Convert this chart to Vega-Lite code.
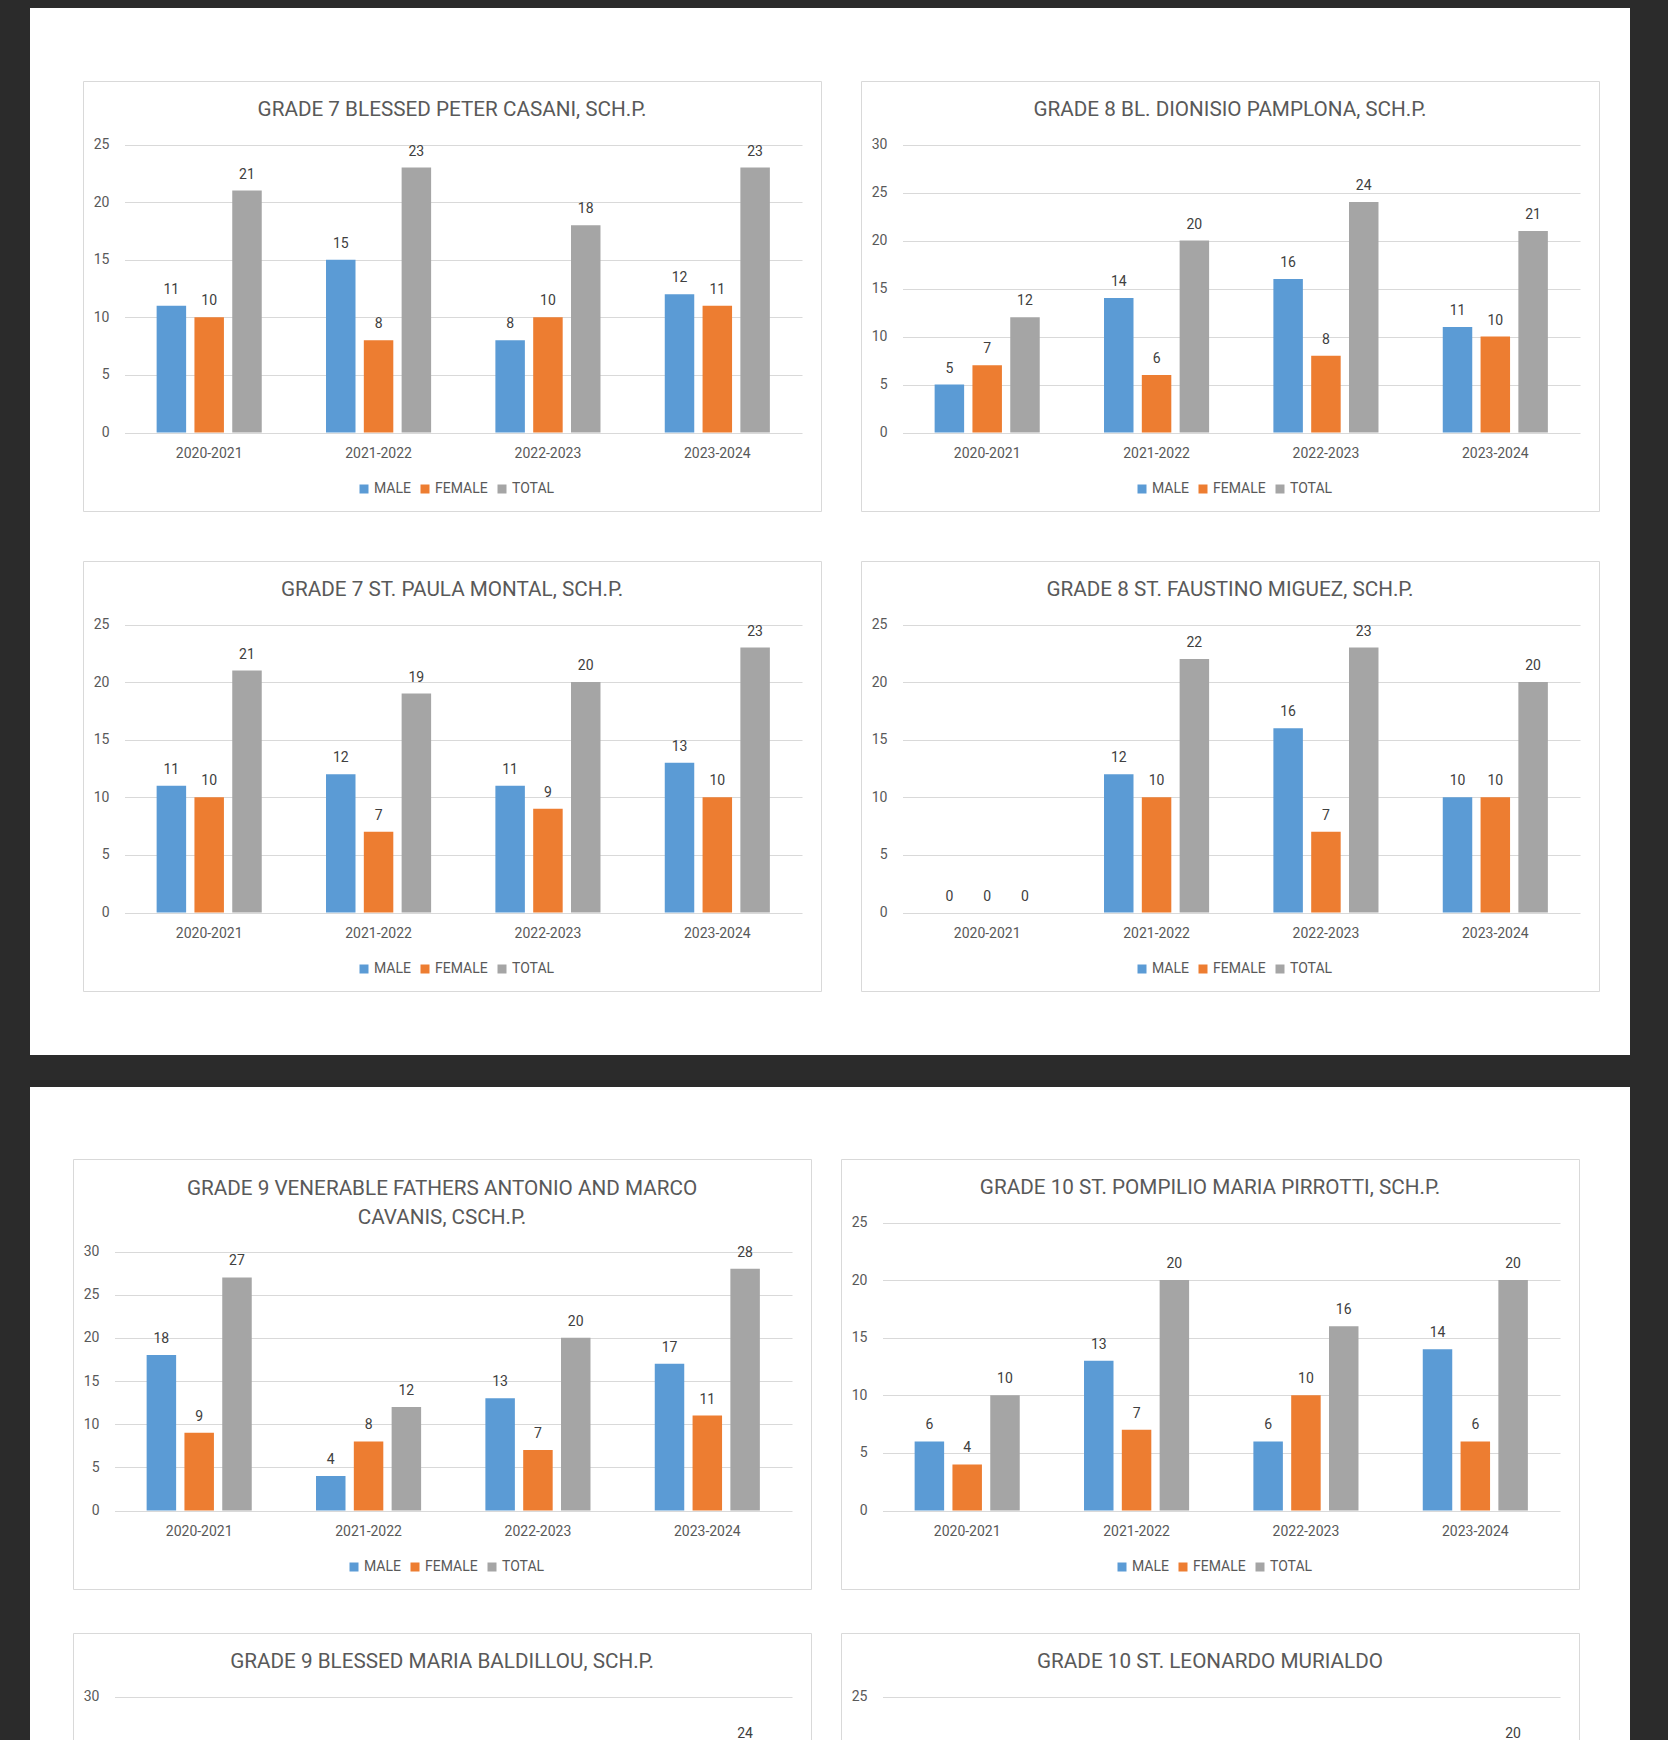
{
  "$schema": "https://vega.github.io/schema/vega-lite/v6.json",
  "background": "#ffffff",
  "padding": 0,
  "spacing": 0,
  "resolve": {"scale": {"color": "independent"}, "legend": {"color": "independent"}},
  "datasets": {
    "enrolment": [
      {"chart": "c1", "year": "2020-2021", "series": "MALE", "value": 11},
      {"chart": "c1", "year": "2020-2021", "series": "FEMALE", "value": 10},
      {"chart": "c1", "year": "2020-2021", "series": "TOTAL", "value": 21},
      {"chart": "c1", "year": "2021-2022", "series": "MALE", "value": 15},
      {"chart": "c1", "year": "2021-2022", "series": "FEMALE", "value": 8},
      {"chart": "c1", "year": "2021-2022", "series": "TOTAL", "value": 23},
      {"chart": "c1", "year": "2022-2023", "series": "MALE", "value": 8},
      {"chart": "c1", "year": "2022-2023", "series": "FEMALE", "value": 10},
      {"chart": "c1", "year": "2022-2023", "series": "TOTAL", "value": 18},
      {"chart": "c1", "year": "2023-2024", "series": "MALE", "value": 12},
      {"chart": "c1", "year": "2023-2024", "series": "FEMALE", "value": 11},
      {"chart": "c1", "year": "2023-2024", "series": "TOTAL", "value": 23},

      {"chart": "c2", "year": "2020-2021", "series": "MALE", "value": 5},
      {"chart": "c2", "year": "2020-2021", "series": "FEMALE", "value": 7},
      {"chart": "c2", "year": "2020-2021", "series": "TOTAL", "value": 12},
      {"chart": "c2", "year": "2021-2022", "series": "MALE", "value": 14},
      {"chart": "c2", "year": "2021-2022", "series": "FEMALE", "value": 6},
      {"chart": "c2", "year": "2021-2022", "series": "TOTAL", "value": 20},
      {"chart": "c2", "year": "2022-2023", "series": "MALE", "value": 16},
      {"chart": "c2", "year": "2022-2023", "series": "FEMALE", "value": 8},
      {"chart": "c2", "year": "2022-2023", "series": "TOTAL", "value": 24},
      {"chart": "c2", "year": "2023-2024", "series": "MALE", "value": 11},
      {"chart": "c2", "year": "2023-2024", "series": "FEMALE", "value": 10},
      {"chart": "c2", "year": "2023-2024", "series": "TOTAL", "value": 21},

      {"chart": "c3", "year": "2020-2021", "series": "MALE", "value": 11},
      {"chart": "c3", "year": "2020-2021", "series": "FEMALE", "value": 10},
      {"chart": "c3", "year": "2020-2021", "series": "TOTAL", "value": 21},
      {"chart": "c3", "year": "2021-2022", "series": "MALE", "value": 12},
      {"chart": "c3", "year": "2021-2022", "series": "FEMALE", "value": 7},
      {"chart": "c3", "year": "2021-2022", "series": "TOTAL", "value": 19},
      {"chart": "c3", "year": "2022-2023", "series": "MALE", "value": 11},
      {"chart": "c3", "year": "2022-2023", "series": "FEMALE", "value": 9},
      {"chart": "c3", "year": "2022-2023", "series": "TOTAL", "value": 20},
      {"chart": "c3", "year": "2023-2024", "series": "MALE", "value": 13},
      {"chart": "c3", "year": "2023-2024", "series": "FEMALE", "value": 10},
      {"chart": "c3", "year": "2023-2024", "series": "TOTAL", "value": 23},

      {"chart": "c4", "year": "2020-2021", "series": "MALE", "value": 0},
      {"chart": "c4", "year": "2020-2021", "series": "FEMALE", "value": 0},
      {"chart": "c4", "year": "2020-2021", "series": "TOTAL", "value": 0},
      {"chart": "c4", "year": "2021-2022", "series": "MALE", "value": 12},
      {"chart": "c4", "year": "2021-2022", "series": "FEMALE", "value": 10},
      {"chart": "c4", "year": "2021-2022", "series": "TOTAL", "value": 22},
      {"chart": "c4", "year": "2022-2023", "series": "MALE", "value": 16},
      {"chart": "c4", "year": "2022-2023", "series": "FEMALE", "value": 7},
      {"chart": "c4", "year": "2022-2023", "series": "TOTAL", "value": 23},
      {"chart": "c4", "year": "2023-2024", "series": "MALE", "value": 10},
      {"chart": "c4", "year": "2023-2024", "series": "FEMALE", "value": 10},
      {"chart": "c4", "year": "2023-2024", "series": "TOTAL", "value": 20},

      {"chart": "c5", "year": "2020-2021", "series": "MALE", "value": 18},
      {"chart": "c5", "year": "2020-2021", "series": "FEMALE", "value": 9},
      {"chart": "c5", "year": "2020-2021", "series": "TOTAL", "value": 27},
      {"chart": "c5", "year": "2021-2022", "series": "MALE", "value": 4},
      {"chart": "c5", "year": "2021-2022", "series": "FEMALE", "value": 8},
      {"chart": "c5", "year": "2021-2022", "series": "TOTAL", "value": 12},
      {"chart": "c5", "year": "2022-2023", "series": "MALE", "value": 13},
      {"chart": "c5", "year": "2022-2023", "series": "FEMALE", "value": 7},
      {"chart": "c5", "year": "2022-2023", "series": "TOTAL", "value": 20},
      {"chart": "c5", "year": "2023-2024", "series": "MALE", "value": 17},
      {"chart": "c5", "year": "2023-2024", "series": "FEMALE", "value": 11},
      {"chart": "c5", "year": "2023-2024", "series": "TOTAL", "value": 28},

      {"chart": "c6", "year": "2020-2021", "series": "MALE", "value": 6},
      {"chart": "c6", "year": "2020-2021", "series": "FEMALE", "value": 4},
      {"chart": "c6", "year": "2020-2021", "series": "TOTAL", "value": 10},
      {"chart": "c6", "year": "2021-2022", "series": "MALE", "value": 13},
      {"chart": "c6", "year": "2021-2022", "series": "FEMALE", "value": 7},
      {"chart": "c6", "year": "2021-2022", "series": "TOTAL", "value": 20},
      {"chart": "c6", "year": "2022-2023", "series": "MALE", "value": 6},
      {"chart": "c6", "year": "2022-2023", "series": "FEMALE", "value": 10},
      {"chart": "c6", "year": "2022-2023", "series": "TOTAL", "value": 16},
      {"chart": "c6", "year": "2023-2024", "series": "MALE", "value": 14},
      {"chart": "c6", "year": "2023-2024", "series": "FEMALE", "value": 6},
      {"chart": "c6", "year": "2023-2024", "series": "TOTAL", "value": 20},

      {"chart": "c7", "year": "2023-2024", "series": "TOTAL", "value": 24},
      {"chart": "c8", "year": "2023-2024", "series": "TOTAL", "value": 20}
    ]
  },
  "hconcat": [
    {"width": 30, "height": 1740, "data": {"values": []}, "mark": "point", "view": {"fill": "#2b2b2b", "stroke": null}},
    {
      "spacing": 0,
      "resolve": {"scale": {"color": "independent"}, "legend": {"color": "independent"}},
      "vconcat": [
        {"width": 1600, "height": 8, "data": {"values": []}, "mark": "point", "view": {"fill": "#2b2b2b", "stroke": null}},
        {"width": 1, "height": 71.5, "data": {"values": []}, "mark": "point"},
        {
          "spacing": 38,
          "resolve": {"scale": {"color": "independent"}, "legend": {"color": "independent"}},
          "hconcat": [
            {"width": 14, "height": 430, "data": {"values": []}, "mark": "point"},
            {
              "width": 738, "height": 430,
              "view": {"fill": "#ffffff", "stroke": "#d9d9d9", "strokeWidth": 1},
              "title": "GRADE 7 BLESSED PETER CASANI, SCH.P.",
              "data": {"name": "enrolment"},
              "transform": [{"filter": "datum.chart === 'c1'"}],
              "encoding": {
                "x": {"field": "year", "type": "nominal", "title": null, "scale": {"domain": ["2020-2021", "2021-2022", "2022-2023", "2023-2024"], "range": [41.5, 719], "paddingInner": 0, "paddingOuter": 0}},
                "xOffset": {"field": "series", "type": "nominal", "scale": {"domain": ["MALE", "FEMALE", "TOTAL"], "paddingInner": 0.22, "paddingOuter": 0.85}},
                "y": {"field": "value", "type": "quantitative", "title": null, "scale": {"domain": [0, 25], "range": [351.5, 63.5], "nice": false}, "axis": {"values": [0, 5, 10, 15, 20, 25]}},
                "color": {"field": "series", "type": "nominal", "scale": {"domain": ["MALE", "FEMALE", "TOTAL"], "range": ["#5b9bd5", "#ed7d31", "#a5a5a5"]}, "legend": {"title": null, "orient": "none", "legendX": 274, "legendY": 401, "direction": "horizontal", "symbolType": "square", "symbolSize": 81, "symbolStrokeWidth": 0, "labelFont": "Roboto", "labelFontSize": 14, "labelColor": "#595959", "labelOffset": 3, "columnPadding": 7, "padding": 0}}
              },
              "layer": [
                {"mark": {"type": "bar"}},
                {"mark": {"type": "text", "baseline": "middle", "dy": -16, "font": "Roboto", "fontSize": 14}, "encoding": {"text": {"field": "value", "type": "quantitative"}, "color": {"value": "#404040"}}}
              ]
            },
            {
              "width": 738, "height": 430,
              "view": {"fill": "#ffffff", "stroke": "#d9d9d9", "strokeWidth": 1},
              "title": "GRADE 8 BL. DIONISIO PAMPLONA, SCH.P.",
              "data": {"name": "enrolment"},
              "transform": [{"filter": "datum.chart === 'c2'"}],
              "encoding": {
                "x": {"field": "year", "type": "nominal", "title": null, "scale": {"domain": ["2020-2021", "2021-2022", "2022-2023", "2023-2024"], "range": [41.5, 719], "paddingInner": 0, "paddingOuter": 0}},
                "xOffset": {"field": "series", "type": "nominal", "scale": {"domain": ["MALE", "FEMALE", "TOTAL"], "paddingInner": 0.22, "paddingOuter": 0.85}},
                "y": {"field": "value", "type": "quantitative", "title": null, "scale": {"domain": [0, 30], "range": [351.5, 63.5], "nice": false}, "axis": {"values": [0, 5, 10, 15, 20, 25, 30]}},
                "color": {"field": "series", "type": "nominal", "scale": {"domain": ["MALE", "FEMALE", "TOTAL"], "range": ["#5b9bd5", "#ed7d31", "#a5a5a5"]}, "legend": {"title": null, "orient": "none", "legendX": 274, "legendY": 401, "direction": "horizontal", "symbolType": "square", "symbolSize": 81, "symbolStrokeWidth": 0, "labelFont": "Roboto", "labelFontSize": 14, "labelColor": "#595959", "labelOffset": 3, "columnPadding": 7, "padding": 0}}
              },
              "layer": [
                {"mark": {"type": "bar"}},
                {"mark": {"type": "text", "baseline": "middle", "dy": -16, "font": "Roboto", "fontSize": 14}, "encoding": {"text": {"field": "value", "type": "quantitative"}, "color": {"value": "#404040"}}}
              ]
            }
          ]
        },
        {"width": 1, "height": 47.5, "data": {"values": []}, "mark": "point"},
        {
          "spacing": 38,
          "resolve": {"scale": {"color": "independent"}, "legend": {"color": "independent"}},
          "hconcat": [
            {"width": 14, "height": 430, "data": {"values": []}, "mark": "point"},
            {
              "width": 738, "height": 430,
              "view": {"fill": "#ffffff", "stroke": "#d9d9d9", "strokeWidth": 1},
              "title": "GRADE 7 ST. PAULA MONTAL, SCH.P.",
              "data": {"name": "enrolment"},
              "transform": [{"filter": "datum.chart === 'c3'"}],
              "encoding": {
                "x": {"field": "year", "type": "nominal", "title": null, "scale": {"domain": ["2020-2021", "2021-2022", "2022-2023", "2023-2024"], "range": [41.5, 719], "paddingInner": 0, "paddingOuter": 0}},
                "xOffset": {"field": "series", "type": "nominal", "scale": {"domain": ["MALE", "FEMALE", "TOTAL"], "paddingInner": 0.22, "paddingOuter": 0.85}},
                "y": {"field": "value", "type": "quantitative", "title": null, "scale": {"domain": [0, 25], "range": [351.5, 63.5], "nice": false}, "axis": {"values": [0, 5, 10, 15, 20, 25]}},
                "color": {"field": "series", "type": "nominal", "scale": {"domain": ["MALE", "FEMALE", "TOTAL"], "range": ["#5b9bd5", "#ed7d31", "#a5a5a5"]}, "legend": {"title": null, "orient": "none", "legendX": 274, "legendY": 401, "direction": "horizontal", "symbolType": "square", "symbolSize": 81, "symbolStrokeWidth": 0, "labelFont": "Roboto", "labelFontSize": 14, "labelColor": "#595959", "labelOffset": 3, "columnPadding": 7, "padding": 0}}
              },
              "layer": [
                {"mark": {"type": "bar"}},
                {"mark": {"type": "text", "baseline": "middle", "dy": -16, "font": "Roboto", "fontSize": 14}, "encoding": {"text": {"field": "value", "type": "quantitative"}, "color": {"value": "#404040"}}}
              ]
            },
            {
              "width": 738, "height": 430,
              "view": {"fill": "#ffffff", "stroke": "#d9d9d9", "strokeWidth": 1},
              "title": "GRADE 8 ST. FAUSTINO MIGUEZ, SCH.P.",
              "data": {"name": "enrolment"},
              "transform": [{"filter": "datum.chart === 'c4'"}],
              "encoding": {
                "x": {"field": "year", "type": "nominal", "title": null, "scale": {"domain": ["2020-2021", "2021-2022", "2022-2023", "2023-2024"], "range": [41.5, 719], "paddingInner": 0, "paddingOuter": 0}},
                "xOffset": {"field": "series", "type": "nominal", "scale": {"domain": ["MALE", "FEMALE", "TOTAL"], "paddingInner": 0.22, "paddingOuter": 0.85}},
                "y": {"field": "value", "type": "quantitative", "title": null, "scale": {"domain": [0, 25], "range": [351.5, 63.5], "nice": false}, "axis": {"values": [0, 5, 10, 15, 20, 25]}},
                "color": {"field": "series", "type": "nominal", "scale": {"domain": ["MALE", "FEMALE", "TOTAL"], "range": ["#5b9bd5", "#ed7d31", "#a5a5a5"]}, "legend": {"title": null, "orient": "none", "legendX": 274, "legendY": 401, "direction": "horizontal", "symbolType": "square", "symbolSize": 81, "symbolStrokeWidth": 0, "labelFont": "Roboto", "labelFontSize": 14, "labelColor": "#595959", "labelOffset": 3, "columnPadding": 7, "padding": 0}}
              },
              "layer": [
                {"mark": {"type": "bar"}},
                {"mark": {"type": "text", "baseline": "middle", "dy": -16, "font": "Roboto", "fontSize": 14}, "encoding": {"text": {"field": "value", "type": "quantitative"}, "color": {"value": "#404040"}}}
              ]
            }
          ]
        },
        {"width": 1, "height": 63, "data": {"values": []}, "mark": "point"},
        {"width": 1600, "height": 32, "data": {"values": []}, "mark": "point", "view": {"fill": "#2b2b2b", "stroke": null}},
        {"width": 1, "height": 70.5, "data": {"values": []}, "mark": "point"},
        {
          "spacing": 28,
          "resolve": {"scale": {"color": "independent"}, "legend": {"color": "independent"}},
          "hconcat": [
            {"width": 14, "height": 430, "data": {"values": []}, "mark": "point"},
            {
              "width": 738, "height": 430,
              "view": {"fill": "#ffffff", "stroke": "#d9d9d9", "strokeWidth": 1},
              "title": {"text": ["GRADE 9 VENERABLE FATHERS ANTONIO AND MARCO", "CAVANIS, CSCH.P."], "lineHeight": 29, "offset": -69.5},
              "data": {"name": "enrolment"},
              "transform": [{"filter": "datum.chart === 'c5'"}],
              "encoding": {
                "x": {"field": "year", "type": "nominal", "title": null, "scale": {"domain": ["2020-2021", "2021-2022", "2022-2023", "2023-2024"], "range": [41.5, 719], "paddingInner": 0, "paddingOuter": 0}},
                "xOffset": {"field": "series", "type": "nominal", "scale": {"domain": ["MALE", "FEMALE", "TOTAL"], "paddingInner": 0.22, "paddingOuter": 0.85}},
                "y": {"field": "value", "type": "quantitative", "title": null, "scale": {"domain": [0, 30], "range": [351.5, 92.5], "nice": false}, "axis": {"values": [0, 5, 10, 15, 20, 25, 30]}},
                "color": {"field": "series", "type": "nominal", "scale": {"domain": ["MALE", "FEMALE", "TOTAL"], "range": ["#5b9bd5", "#ed7d31", "#a5a5a5"]}, "legend": {"title": null, "orient": "none", "legendX": 274, "legendY": 401, "direction": "horizontal", "symbolType": "square", "symbolSize": 81, "symbolStrokeWidth": 0, "labelFont": "Roboto", "labelFontSize": 14, "labelColor": "#595959", "labelOffset": 3, "columnPadding": 7, "padding": 0}}
              },
              "layer": [
                {"mark": {"type": "bar"}},
                {"mark": {"type": "text", "baseline": "middle", "dy": -16, "font": "Roboto", "fontSize": 14}, "encoding": {"text": {"field": "value", "type": "quantitative"}, "color": {"value": "#404040"}}}
              ]
            },
            {
              "width": 738, "height": 430,
              "view": {"fill": "#ffffff", "stroke": "#d9d9d9", "strokeWidth": 1},
              "title": "GRADE 10 ST. POMPILIO MARIA PIRROTTI, SCH.P.",
              "data": {"name": "enrolment"},
              "transform": [{"filter": "datum.chart === 'c6'"}],
              "encoding": {
                "x": {"field": "year", "type": "nominal", "title": null, "scale": {"domain": ["2020-2021", "2021-2022", "2022-2023", "2023-2024"], "range": [41.5, 719], "paddingInner": 0, "paddingOuter": 0}},
                "xOffset": {"field": "series", "type": "nominal", "scale": {"domain": ["MALE", "FEMALE", "TOTAL"], "paddingInner": 0.22, "paddingOuter": 0.85}},
                "y": {"field": "value", "type": "quantitative", "title": null, "scale": {"domain": [0, 25], "range": [351.5, 63.5], "nice": false}, "axis": {"values": [0, 5, 10, 15, 20, 25]}},
                "color": {"field": "series", "type": "nominal", "scale": {"domain": ["MALE", "FEMALE", "TOTAL"], "range": ["#5b9bd5", "#ed7d31", "#a5a5a5"]}, "legend": {"title": null, "orient": "none", "legendX": 274, "legendY": 401, "direction": "horizontal", "symbolType": "square", "symbolSize": 81, "symbolStrokeWidth": 0, "labelFont": "Roboto", "labelFontSize": 14, "labelColor": "#595959", "labelOffset": 3, "columnPadding": 7, "padding": 0}}
              },
              "layer": [
                {"mark": {"type": "bar"}},
                {"mark": {"type": "text", "baseline": "middle", "dy": -16, "font": "Roboto", "fontSize": 14}, "encoding": {"text": {"field": "value", "type": "quantitative"}, "color": {"value": "#404040"}}}
              ]
            }
          ]
        },
        {"width": 1, "height": 42, "data": {"values": []}, "mark": "point"},
        {
          "spacing": 28,
          "resolve": {"scale": {"color": "independent"}, "legend": {"color": "independent"}},
          "hconcat": [
            {"width": 14, "height": 107.5, "data": {"values": []}, "mark": "point"},
            {
              "width": 738, "height": 107.5,
              "view": {"fill": "#ffffff", "stroke": "#d9d9d9", "strokeWidth": 1},
              "title": "GRADE 9 BLESSED MARIA BALDILLOU, SCH.P.",
              "data": {"name": "enrolment"},
              "transform": [{"filter": "datum.chart === 'c7'"}],
              "encoding": {
                "x": {"field": "year", "type": "nominal", "title": null, "axis": null, "scale": {"domain": ["2020-2021", "2021-2022", "2022-2023", "2023-2024"], "range": [41.5, 719], "paddingInner": 0, "paddingOuter": 0}},
                "xOffset": {"field": "series", "type": "nominal", "scale": {"domain": ["MALE", "FEMALE", "TOTAL"], "paddingInner": 0.22, "paddingOuter": 0.85}},
                "y": {"field": "value", "type": "quantitative", "title": null, "scale": {"domain": [0, 30], "range": [351.5, 63.5], "nice": false}, "axis": {"values": [30]}},
                "color": {"field": "series", "type": "nominal", "scale": {"domain": ["MALE", "FEMALE", "TOTAL"], "range": ["#5b9bd5", "#ed7d31", "#a5a5a5"]}, "legend": null}
              },
              "layer": [
                {"mark": {"type": "bar", "clip": true}},
                {"mark": {"type": "text", "baseline": "middle", "dy": -20, "font": "Roboto", "fontSize": 14, "clip": true}, "encoding": {"text": {"field": "value", "type": "quantitative"}, "color": {"value": "#404040"}}}
              ]
            },
            {
              "width": 738, "height": 107.5,
              "view": {"fill": "#ffffff", "stroke": "#d9d9d9", "strokeWidth": 1},
              "title": "GRADE 10 ST. LEONARDO MURIALDO",
              "data": {"name": "enrolment"},
              "transform": [{"filter": "datum.chart === 'c8'"}],
              "encoding": {
                "x": {"field": "year", "type": "nominal", "title": null, "axis": null, "scale": {"domain": ["2020-2021", "2021-2022", "2022-2023", "2023-2024"], "range": [41.5, 719], "paddingInner": 0, "paddingOuter": 0}},
                "xOffset": {"field": "series", "type": "nominal", "scale": {"domain": ["MALE", "FEMALE", "TOTAL"], "paddingInner": 0.22, "paddingOuter": 0.85}},
                "y": {"field": "value", "type": "quantitative", "title": null, "scale": {"domain": [0, 25], "range": [351.5, 63.5], "nice": false}, "axis": {"values": [25]}},
                "color": {"field": "series", "type": "nominal", "scale": {"domain": ["MALE", "FEMALE", "TOTAL"], "range": ["#5b9bd5", "#ed7d31", "#a5a5a5"]}, "legend": null}
              },
              "layer": [
                {"mark": {"type": "bar", "clip": true}},
                {"mark": {"type": "text", "baseline": "middle", "dy": -20, "font": "Roboto", "fontSize": 14, "clip": true}, "encoding": {"text": {"field": "value", "type": "quantitative"}, "color": {"value": "#404040"}}}
              ]
            }
          ]
        }
      ]
    },
    {"width": 38, "height": 1740, "data": {"values": []}, "mark": "point", "view": {"fill": "#2b2b2b", "stroke": null}}
  ],
  "config": {
    "view": {"stroke": null},
    "font": "Roboto",
    "axis": {"domain": false, "ticks": false, "labelFont": "Roboto", "labelFontSize": 14, "labelColor": "#595959", "gridColor": "#d9d9d9", "gridWidth": 1.2},
    "axisX": {"grid": false, "labelAngle": 0, "labelPadding": 14, "offset": -78.5},
    "axisY": {"grid": true, "labelPadding": -26, "offset": 0},
    "title": {"font": "Roboto", "fontSize": 20.7, "fontWeight": "normal", "color": "#595959", "anchor": "middle", "frame": "group", "offset": -40}
  }
}
